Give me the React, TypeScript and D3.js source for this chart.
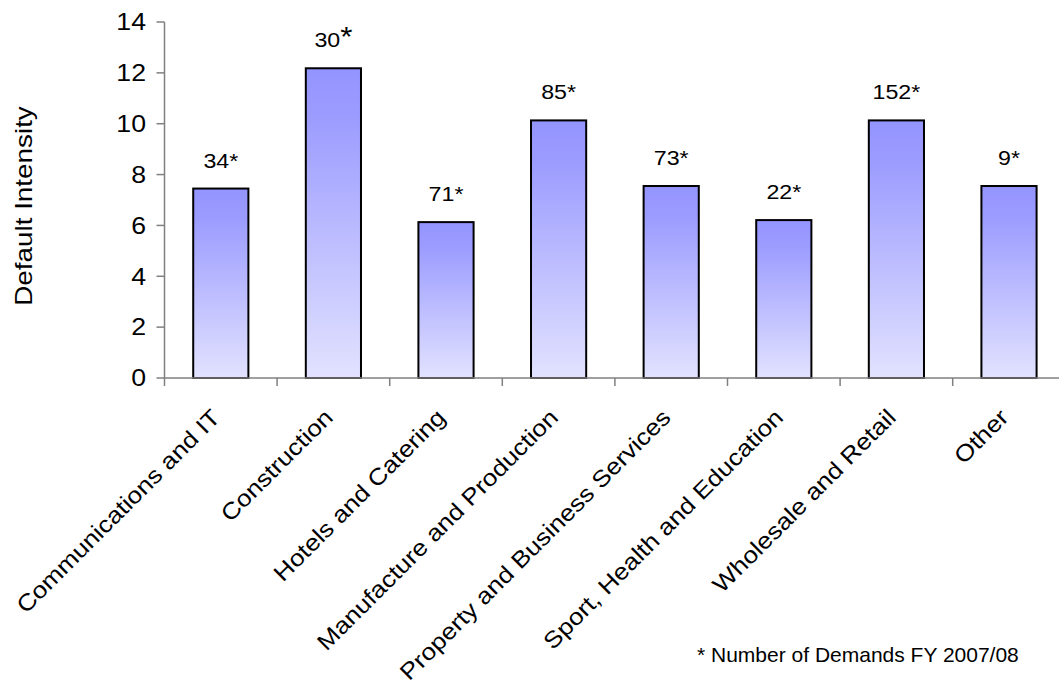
import React from "react";
import * as d3 from "d3";

// Default intensity by industry sector, with the number of demands (FY 2007/08)
const categories: string[] = [
  "Communications and IT",
  "Construction",
  "Hotels and Catering",
  "Manufacture and Production",
  "Property and Business Services",
  "Sport, Health and Education",
  "Wholesale and Retail",
  "Other",
];
const intensity: number[] = [7.45, 12.18, 6.13, 10.13, 7.55, 6.21, 10.13, 7.55];
const demands: number[] = [34, 30, 71, 85, 73, 22, 152, 9];
const yTicks: number[] = [0, 2, 4, 6, 8, 10, 12, 14];
const yTitle = "Default Intensity";
const footnote = "* Number of Demands FY 2007/08";

const W = 1059;
const H = 684;
const FONT = "'Liberation Sans', Arial, Helvetica, sans-serif";
const STRETCH = 1.16; // labels are set slightly wide
const CAT_STRETCH = 1.14;

export default function App() {
  const x0 = 164.5;
  const step = 112.6;
  const x = d3
    .scaleBand<string>()
    .domain(categories)
    .range([x0, x0 + step * categories.length])
    .paddingInner(0.51)
    .paddingOuter(0.255);
  const y = d3.scaleLinear().domain([0, 14]).range([378, 22]);

  const baseY = y(0);
  const bandStep = x.step();
  const tickXs = d3.range(categories.length + 1).map((i) => x.range()[0] + i * bandStep);

  return (
    <svg
      width={W}
      height={H}
      style={{ position: "absolute", left: 0, top: 0, background: "#fff" }}
      fontFamily={FONT}
    >
      <defs>
        <linearGradient id="barFill" x1="0" y1="0" x2="0" y2="1">
          <stop offset="0" stopColor="#9494ff" />
          <stop offset="0.15" stopColor="#9b9bff" />
          <stop offset="1" stopColor="#e2e2ff" />
        </linearGradient>
      </defs>

      {/* y axis */}
      <line x1={x0} x2={x0} y1={y(14)} y2={baseY} stroke="#808080" strokeWidth={1.5} />
      {yTicks.map((t) => (
        <g key={t}>
          <line x1={x0 - 8} x2={x0} y1={y(t)} y2={y(t)} stroke="#808080" strokeWidth={1.5} />
          <text
            transform={`translate(146,${y(t)}) scale(${STRETCH},1)`}
            textAnchor="end"
            dy="0.36em"
            fontSize={23}
            fill="#000"
          >
            {t}
          </text>
        </g>
      ))}
      <text
        transform={`translate(23,206) rotate(-90) scale(${STRETCH},1)`}
        textAnchor="middle"
        dy="0.36em"
        fontSize={24}
        fill="#000"
      >
        {yTitle}
      </text>

      {/* bars */}
      {categories.map((c, i) => {
        const bx = x(c) as number;
        const top = y(intensity[i]);
        return (
          <rect
            key={c}
            x={bx}
            y={top}
            width={x.bandwidth()}
            height={baseY - top}
            fill="url(#barFill)"
            stroke="#000"
            strokeWidth={2}
          />
        );
      })}

      {/* x axis */}
      <line x1={x0} x2={W} y1={baseY} y2={baseY} stroke="#808080" strokeWidth={1.5} />
      {tickXs.map((tx, i) => (
        <line key={i} x1={tx} x2={tx} y1={baseY} y2={baseY + 8} stroke="#808080" strokeWidth={1.5} />
      ))}

      {/* demand counts above bars */}
      {categories.map((c, i) => {
        const cx = (x(c) as number) + x.bandwidth() / 2;
        const bigStar = c === "Construction";
        return (
          <text
            key={c}
            transform={`translate(${cx},${y(intensity[i]) - 21}) scale(${STRETCH},1)`}
            textAnchor="middle"
            fontSize={20}
            fill="#000"
          >
            {demands[i]}
            {bigStar ? <tspan fontSize={27} dy="-1">*</tspan> : "*"}
          </text>
        );
      })}

      {/* category labels */}
      {categories.map((c) => {
        const cx = (x(c) as number) + x.bandwidth() / 2;
        return (
          <text
            key={c}
            transform={`translate(${cx - 5},413) rotate(-45) scale(${CAT_STRETCH},1)`}
            textAnchor="end"
            dy="0.36em"
            fontSize={23}
            fill="#000"
          >
            {c}
          </text>
        );
      })}

      <text x={697} y={662} fontSize={21} fill="#000">
        {footnote}
      </text>
    </svg>
  );
}
